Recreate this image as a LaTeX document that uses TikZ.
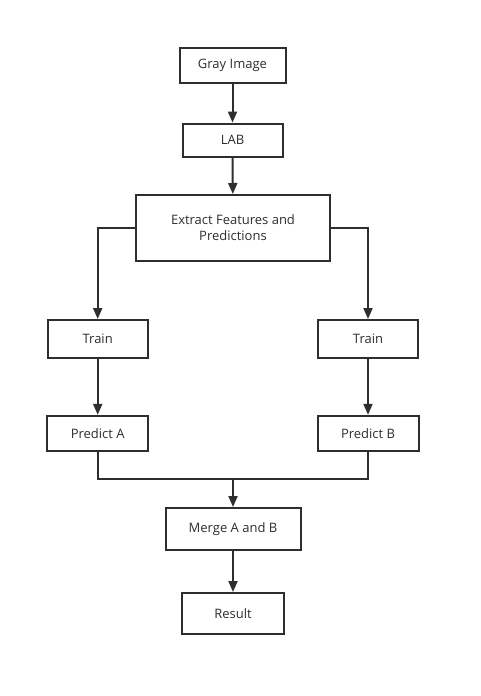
\documentclass[tikz,border=0pt]{standalone}
\usepackage{fontspec}
\setmainfont{Open Sans}
\usetikzlibrary{arrows.meta}
\definecolor{ink}{HTML}{2E2E2E}
\tikzset{
  blk/.style={draw=ink, line width=2pt, inner sep=1pt, text=ink, align=center,
    font=\fontsize{13}{16}\selectfont},
  arr/.style={draw=ink, line width=2pt, -{Triangle[width=9pt,length=11pt]}},
  ln/.style={draw=ink, line width=2pt}
}
\begin{document}
\begin{tikzpicture}[x=1pt,y=1pt]
\useasboundingbox[fill=white] (0,0) rectangle (480,-696);
\node[blk, minimum width=106pt, minimum height=35pt] (gray) at (232.5,-65) {Gray Image};
\node[blk, minimum width=100pt, minimum height=33pt] (lab) at (232.5,-140) {LAB};
\node[blk, minimum width=194pt, minimum height=66pt] (extract) at (233,-228) {Extract Features and\\Predictions};
\node[blk, minimum width=100pt, minimum height=38pt] (trainA) at (97.7,-339) {Train};
\node[blk, minimum width=100pt, minimum height=38pt] (trainB) at (368,-339) {Train};
\node[blk, minimum width=101pt, minimum height=35pt] (predA) at (97.7,-433.3) {Predict A};
\node[blk, minimum width=101pt, minimum height=35pt] (predB) at (368,-433.3) {Predict B};
\node[blk, minimum width=135pt, minimum height=42pt] (merge) at (233,-529) {Merge A and B};
\node[blk, minimum width=102pt, minimum height=41pt] (result) at (233,-613.5) {Result};
\coordinate (join) at (233,-479.3);
\draw[arr] (gray) -- (lab);
\draw[arr] (lab) -- (extract);
\draw[arr] (extract.west) -| (trainA);
\draw[arr] (extract.east) -| (trainB);
\draw[arr] (trainA) -- (predA);
\draw[arr] (trainB) -- (predB);
\draw[ln] (predA) |- (join);
\draw[ln] (predB) |- (join);
\draw[arr] (join) -- (merge);
\draw[arr] (merge) -- (result);
\end{tikzpicture}
\end{document}
